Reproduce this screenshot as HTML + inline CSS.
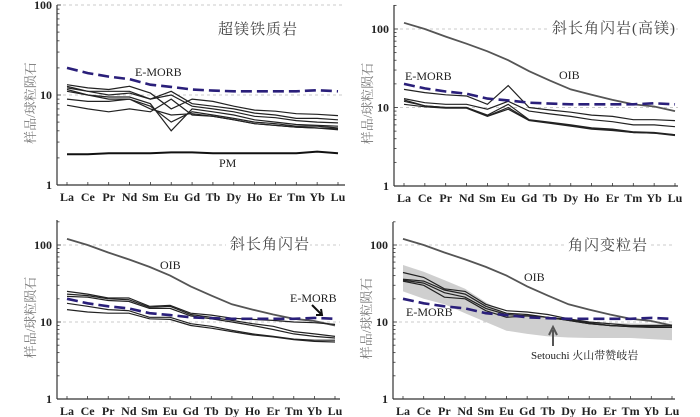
<!DOCTYPE html>
<html><head><meta charset="utf-8">
<style>
html,body{margin:0;padding:0;background:#fff;}
svg{display:block;}
text{font-family:"Liberation Serif","Noto Serif CJK SC",serif;}
</style></head>
<body>
<svg id="chart" width="700" height="417" viewBox="0 0 700 417" xmlns="http://www.w3.org/2000/svg"></svg>
<script>
const elements = ["La","Ce","Pr","Nd","Sm","Eu","Gd","Tb","Dy","Ho","Er","Tm","Yb","Lu"];
const emorb = [20,17.5,16,15,13,12.3,11.5,11.2,11,11,11,11,11.3,11];
const oib = [120,100,80,65,52,40,29,22,17,14.5,12.5,11,10.3,9];
const pm = [2.2,2.2,2.25,2.25,2.25,2.3,2.3,2.25,2.25,2.25,2.25,2.25,2.35,2.25];
const ultramafic = [
 [13,12,11.5,12.5,10.5,7,9,8.5,7.5,6.8,6.6,6.2,6.1,5.9],
 [12.5,11,11,11,9,11,8,7.5,7,6.3,6,5.5,5.5,5.3],
 [12,11,10,10.5,9,10,7.5,7,6.5,5.8,5.6,5.2,5,4.9],
 [11.5,10,9.5,9.5,8,4,7,6.5,6,5.3,5,4.7,4.6,4.5],
 [11,10,9,9,7.5,5,6.5,6,5.5,5,4.8,4.5,4.5,4.3],
 [9,8.5,8.5,9,7,6,6.2,5.8,5.3,4.8,4.6,4.4,4.3,4.1],
 [7.7,7,6.5,7,6.5,9,6,5.8,5.3,4.8,4.6,4.4,4.3,4.2]];
const amphHighMg = [
 [17,15.5,14.5,14,11,19,10,9.3,8.7,8,7.7,7,7,6.8],
 [13,11.5,11,11,9.5,12,9,8.3,7.7,7,6.6,6,6,5.7],
 [12.5,10.5,10,10,8,11,7,6.5,6,5.5,5.3,4.9,4.8,4.5],
 [12,10.5,10,10,7.8,10,6.9,6.4,5.9,5.4,5.2,4.8,4.7,4.5],
 [11,10.2,9.8,9.8,7.7,9.5,6.8,6.3,5.8,5.3,5.1,4.8,4.7,4.4]];
const amphibolite = [
 [25,23,20.5,20.5,16,16.5,13,12.3,11.2,10.8,10.5,10,9.8,9.3],
 [23,22,20,19.5,15.5,16,12.5,11.5,10.5,9.5,8.8,7.5,7,6.5],
 [21.5,21,19,18.5,15,15,12,11,10,9,8,7,6.5,6.2],
 [17.5,16,14.5,14,11.5,11.5,9.5,8.8,7.8,7,6.5,6,5.8,5.8],
 [14.5,13.5,13,13,11,10.8,9,8.3,7.5,6.8,6.4,5.9,5.6,5.5]];
const hornblendeGneiss = [
 [44,38,27,25,17,14,13.5,12.5,11,10,9.5,9,9,9],
 [36,34,26,23,16,13,12.5,11.5,10.5,9.5,9,8.8,8.7,8.6],
 [35,32,24,21,15,12.5,12,11.5,10.5,9.5,9,8.7,8.5,8.5],
 [34,30,21,20,14,11.5,12,11.5,10.8,9.7,9,8.7,8.6,8.6]];
const setouchiUpper = [55,45,35,27,18,13,12,11,11,10,9.8,9.6,9.5,9.5];
const setouchiLower = [25,20,17,13,10,7.7,7,6.5,6.3,6.2,6.2,6.2,6,5.8];
const yTicks = [1,10,100];

const NS="http://www.w3.org/2000/svg";
const svg=document.getElementById('chart');
function mk(tag,attrs,parent){const e=document.createElementNS(NS,tag);for(const k in attrs)e.setAttribute(k,attrs[k]);(parent||svg).appendChild(e);return e;}

function panel(cfg){
  const g=mk('g',{});
  
  
  const xs=i=>cfg.x0+(cfg.x1-cfg.x0)*i/(elements.length-1);
  const ys=v=>cfg.y1-(Math.log10(v))*cfg.dec;
  const pts=arr=>arr.map((v,i)=>xs(i).toFixed(1)+','+ys(v).toFixed(1)).join(' ');
  // gridlines
  [10,100].forEach(t=>{
    const l=mk('line',{x1:cfg.ax,x2:cfg.gx2,y1:ys(t),y2:ys(t),stroke:'#bbb','stroke-width':0.8,'stroke-dasharray':'3,3'},g);
    
    
  });
  // title
  const tb=mk('rect',{x:cfg.tx-4,y:cfg.ty-11,width:cfg.tw+8,height:18,fill:'#fff'},g);
  const tt=mk('text',{x:cfg.tx,y:cfg.ty+4,'font-size':15,fill:'#444','letter-spacing':'1'},g);
  tt.textContent=cfg.title;
  
  
  // band
  if(cfg.band){
    const p=mk('polygon',{points:pts(cfg.band[0])+' '+cfg.band[1].map((v,i)=>[i,v]).reverse().map(([i,v])=>xs(i).toFixed(1)+','+ys(v).toFixed(1)).join(' '),fill:'#cfcfcf'},g);
    
    
  }
  if(cfg.oib){
    const o=mk('polyline',{points:pts(oib),fill:'none',stroke:'#555','stroke-width':1.8},g);
    
    
  }
  if(cfg.pm){
    const o=mk('polyline',{points:pts(pm),fill:'none',stroke:'#111','stroke-width':2},g);
    
    
  }
  cfg.samples.forEach((s,k)=>{
    const o=mk('polyline',{points:pts(s),fill:'none',stroke:'#222','stroke-width':1.2},g);
    
    
  });
  const e=mk('polyline',{points:pts(emorb),fill:'none',stroke:'#2a1f7a','stroke-width':2.6,'stroke-dasharray':'11,5'},g);
  
  
  // axes
  const ya=mk('line',{x1:cfg.ax,x2:cfg.ax,y1:cfg.ytop,y2:cfg.y1,stroke:'#333','stroke-width':1.2},g);
  
  
  const xa=mk('line',{x1:cfg.ax,x2:cfg.gx2,y1:cfg.y1,y2:cfg.y1,stroke:'#333','stroke-width':1.2},g);
  
  
  for(let d=1;d<=200;d*=10){for(let m=1;m<10;m++){const v=d*m;const y=ys(v);if(y<cfg.ytop-0.5)continue;
    mk('line',{x1:cfg.ax,x2:cfg.ax+(m===1?4:2.5),y1:y,y2:y,stroke:'#333','stroke-width':0.8},g);}}
  yTicks.forEach(t=>{const tl=mk('text',{x:cfg.ax-5,y:ys(t)+4,'font-size':12,'text-anchor':'end',fill:'#222','font-weight':'bold'},g);tl.textContent=t;
    
    });
  elements.forEach((el,i)=>{
    mk('line',{x1:xs(i),x2:xs(i),y1:cfg.y1,y2:cfg.y1-3,stroke:'#333','stroke-width':0.8},g);
    const tl=mk('text',{x:xs(i),y:cfg.y1+16,'font-size':12,'text-anchor':'middle',fill:'#222','font-weight':'bold'},g);
    tl.textContent=el;
    
    
  });
  const yl=mk('text',{x:0,y:0,'font-size':13,fill:'#777','text-anchor':'middle',transform:`translate(${cfg.ax-22},${(cfg.ytop+cfg.y1)/2+8}) rotate(-90)`},g);
  yl.textContent='样品/球粒陨石';
  
  
  cfg.labels.forEach(L=>{const t=mk('text',{x:L[1],y:L[2],'font-size':L[3]||12,fill:'#222'},g);t.textContent=L[0];
    
    });
  return g;
}
panel({name:'panel-ultramafic',x0:67,x1:338,ax:57,gx2:345,y1:185,dec:90,ytop:5,title:'超镁铁质岩',tx:218,ty:30,tw:80,
  samples:ultramafic,pm:true,labels:[['E-MORB',135,76],['PM',219,167]]});
panel({name:'panel-amphibolite-high-mg',x0:404,x1:675,ax:394,gx2:678,y1:186,dec:78.5,ytop:5,title:'斜长角闪岩(高镁)',tx:552,ty:29,tw:112,
  samples:amphHighMg,oib:true,labels:[['E-MORB',405,80],['OIB',559,79]]});
panel({name:'panel-amphibolite',x0:67,x1:335,ax:57,gx2:340,y1:399,dec:77,ytop:220,title:'斜长角闪岩',tx:230,ty:245,tw:76,
  samples:amphibolite,oib:true,labels:[['OIB',160,269],['E-MORB',290,302]]});
panel({name:'panel-hornblende-gneiss',x0:403,x1:672,ax:393,gx2:675,y1:399,dec:77,ytop:222,title:'角闪变粒岩',tx:568,ty:246,tw:76,
  samples:hornblendeGneiss,oib:true,band:[setouchiUpper,setouchiLower],labels:[['E-MORB',406,316],['OIB',524,281],['Setouchi 火山带赞岐岩',531,359,11]]});
// arrows
const a1=mk('path',{d:'M312,305 L321,314 M316,315 L322,315 L321,309',stroke:'#111','stroke-width':2,fill:'none'});


const a2=mk('path',{d:'M553,346 L553,330 M549,335 L553,327 L557,335',stroke:'#555','stroke-width':2,fill:'none'});


</script>
</body></html>
